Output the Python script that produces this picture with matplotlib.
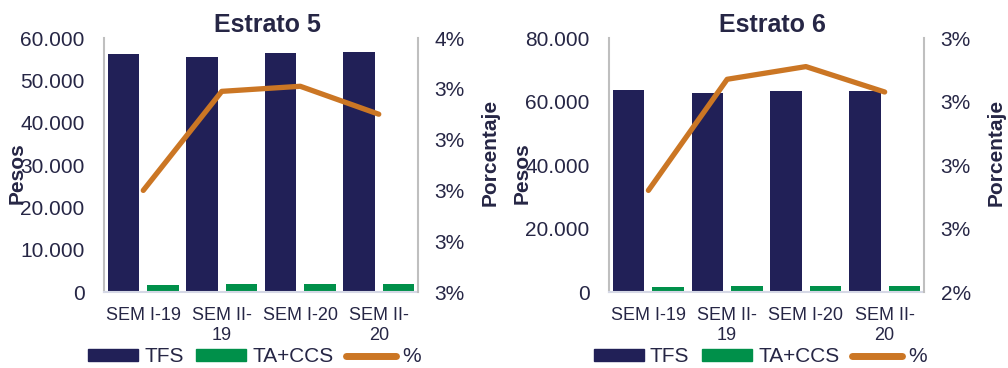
import numpy as np
import matplotlib
matplotlib.use('Agg')
import matplotlib.pyplot as plt
from matplotlib.ticker import FuncFormatter, FixedLocator
from matplotlib.lines import Line2D
from matplotlib.patches import Patch

plt.rcParams['font.family'] = ['Liberation Sans', 'DejaVu Sans']

# data
periodos = ['SEM I-19', 'SEM II-\n19', 'SEM I-20', 'SEM II-\n20']

tfs_e5 = [56150, 55450, 56400, 56600]
ta_ccs_e5 = [1650, 1900, 1950, 1900]
pct_e5 = [2.90, 3.29, 3.31, 3.20]

tfs_e6 = [63600, 62700, 63300, 63300]
ta_ccs_e6 = [1600, 1900, 2000, 1900]
pct_e6 = [2.72, 3.07, 3.11, 3.03]

# right-axis ticks as Excel shows them (rounded to whole %)
pct_ticks_e5 = [2.5, 2.7, 2.9, 3.1, 3.3, 3.5]
pct_labels_e5 = ['3%', '3%', '3%', '3%', '3%', '4%']
pct_ticks_e6 = [2.4, 2.6, 2.8, 3.0, 3.2]
pct_labels_e6 = ['2%', '3%', '3%', '3%', '3%']

NAVY = '#212057'
GREEN = '#00904A'
ORANGE = '#CB7624'
TXT = '#262645'

fig = plt.figure(figsize=(10.08, 3.68), dpi=100)


def panel(left, width, title, tfs, ta, pct, ymax, ystep, pticks, plabels):
    ax = fig.add_axes([left, 0.2065, width, 0.6902])
    x = np.arange(len(periodos))
    ax.bar(x - 0.25, tfs, width=0.4, color=NAVY)
    ax.bar(x + 0.25, ta, width=0.4, color=GREEN)
    ax.set_xlim(-0.5, 3.5)
    ax.set_ylim(0, ymax)
    ax.yaxis.set_major_locator(FixedLocator(np.arange(0, ymax + 1, ystep)))
    ax.yaxis.set_major_formatter(FuncFormatter(lambda v, p: f'{int(v):,}'.replace(',', '.')))
    ax.set_xticks(x)
    ax.set_xticklabels(periodos, fontsize=13, color=TXT, linespacing=1.2)
    ax.tick_params(axis='x', length=0, pad=11)
    ax.tick_params(axis='y', length=0, pad=14, labelsize=15, labelcolor=TXT)
    ax.spines['top'].set_visible(False)
    ax.spines['left'].set_color('#BFBFBF')
    ax.spines['left'].set_linewidth(1.5)
    ax.spines['bottom'].set_color('#D5D8E6')
    ax.spines['bottom'].set_linewidth(1.5)
    ax.spines['right'].set_visible(False)
    ax.set_ylabel('Pesos', fontsize=15, fontweight='bold', color=TXT)
    ax.yaxis.set_label_coords(-0.247, 0.47)
    ax.set_title(title, fontsize=18, fontweight='bold', color=TXT, pad=4, x=0.52)

    ax2 = ax.twinx()
    ax2.plot(x, pct, color=ORANGE, linewidth=3.8, solid_capstyle='round', solid_joinstyle='round')
    ax2.set_ylim(pticks[0], pticks[-1])
    ax2.set_yticks(pticks)
    ax2.set_yticklabels(plabels)
    ax2.tick_params(axis='y', length=0, pad=12, labelsize=15, labelcolor=TXT)
    for s in ['top', 'left', 'bottom']:
        ax2.spines[s].set_visible(False)
    ax2.spines['right'].set_color('#BFBFBF')
    ax2.spines['right'].set_linewidth(1.5)
    ax2.set_ylabel('Porcentaje', fontsize=15, fontweight='bold', color=TXT, rotation=90)
    ax2.yaxis.set_label_coords(1.20, 0.55)

    handles = [Patch(color=NAVY), Patch(color=GREEN),
               Line2D([], [], color=ORANGE, linewidth=5, solid_capstyle='round')]
    leg = ax.legend(handles, ['TFS', 'TA+CCS', '%'], loc='center',
                    bbox_to_anchor=(0.48, -0.255), ncol=3, frameon=False,
                    fontsize=15, handlelength=2.4, handleheight=0.5,
                    handletextpad=0.3, columnspacing=0.6, borderaxespad=0)
    for t in leg.get_texts():
        t.set_color(TXT)
    return ax


panel(0.1032, 0.3115, 'Estrato 5', tfs_e5, ta_ccs_e5, pct_e5, 60000, 10000,
      pct_ticks_e5, pct_labels_e5)
panel(0.6042, 0.3125, 'Estrato 6', tfs_e6, ta_ccs_e6, pct_e6, 80000, 20000,
      pct_ticks_e6, pct_labels_e6)

fig.savefig('out.png', dpi=100)
